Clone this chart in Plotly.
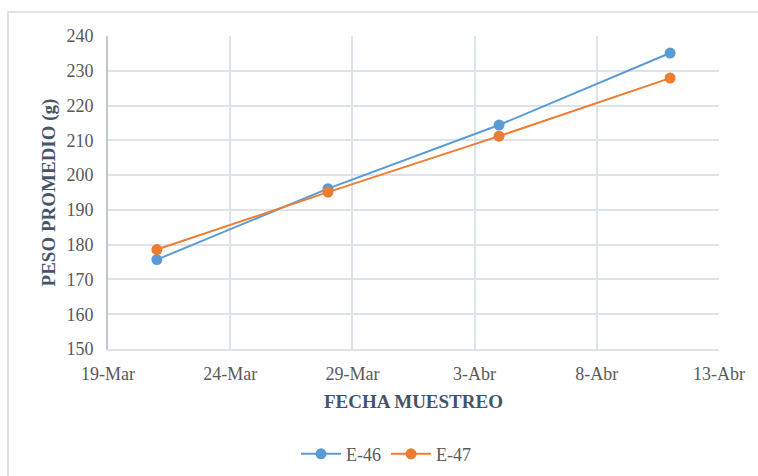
import plotly.graph_objects as go

fechas = ["2021-03-21", "2021-03-28", "2021-04-04", "2021-04-11"]
e46 = [175.7, 196.1, 214.4, 235.1]
e47 = [178.6, 195.1, 211.2, 227.9]
tick_vals = ["2021-03-19", "2021-03-24", "2021-03-29", "2021-04-03", "2021-04-08", "2021-04-13"]
tick_text = ["19-Mar", "24-Mar", "29-Mar", "3-Abr", "8-Abr", "13-Abr"]
y_ticks = [150, 160, 170, 180, 190, 200, 210, 220, 230, 240]

FONT = "'Liberation Serif', 'Times New Roman', Times, serif"
TXT = "#595959"
TITLE = "#44546a"
GRID = "#dde3ea"

fig = go.Figure()
fig.add_trace(go.Scatter(x=fechas, y=e46, name="E-46", mode="lines+markers",
                         line=dict(color="#5b9bd5", width=2),
                         marker=dict(color="#5b9bd5", size=11)))
fig.add_trace(go.Scatter(x=fechas, y=e47, name="E-47", mode="lines+markers",
                         line=dict(color="#ed7d31", width=2),
                         marker=dict(color="#ed7d31", size=11)))

fig.update_layout(
    width=758, height=476,
    margin=dict(l=108, r=39, t=36, b=127, autoexpand=False),
    paper_bgcolor="white", plot_bgcolor="white",
    font=dict(family=FONT, size=18, color=TXT),
    showlegend=True,
    legend=dict(orientation="h", x=0.455, xanchor="center",
                yref="container", y=0.046, yanchor="middle",
                font=dict(family=FONT, size=18, color=TXT), itemwidth=40,
                tracegroupgap=0),
    xaxis=dict(type="date", range=["2021-03-19", "2021-04-13"],
               tickvals=tick_vals, ticktext=tick_text,
               showgrid=True, gridcolor=GRID, gridwidth=2,
               showline=True, linecolor=GRID, linewidth=2, mirror=False,
               ticks="", ticklabelstandoff=7,
               tickfont=dict(family=FONT, size=18, color=TXT),
               title=dict(text="<b>FECHA MUESTREO</b>", standoff=12,
                          font=dict(family=FONT, size=19, color=TITLE)),
               zeroline=False),
    yaxis=dict(range=[150, 240], tickvals=y_ticks,
               showgrid=True, gridcolor=GRID, gridwidth=2,
               showline=True, linecolor="#bfc6d0", linewidth=2,
               ticks="", ticklabelstandoff=9,
               tickfont=dict(family=FONT, size=18, color=TXT),
               title=dict(text="<b>PESO PROMEDIO (g)</b>", standoff=6,
                          font=dict(family=FONT, size=19, color=TITLE)),
               zeroline=False),
    shapes=[dict(type="rect", xref="paper", yref="paper",
                 x0=(8 - 108) / 611, x1=(770 - 108) / 611,
                 y0=(349 - 480) / 313, y1=(349 - 12) / 313,
                 line=dict(color="#d9d9d9", width=1.5), fillcolor="rgba(0,0,0,0)",
                 layer="below")],
)

fig.write_html("out.html")
